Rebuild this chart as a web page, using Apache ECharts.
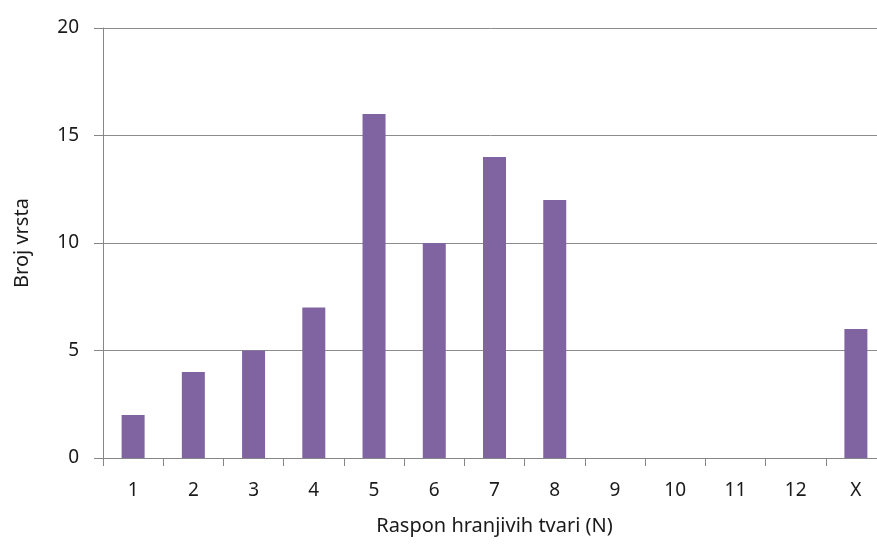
<!DOCTYPE html>
<html>
<head>
<meta charset="utf-8">
<script src="https://cdn.jsdelivr.net/npm/echarts@6/dist/echarts.min.js"></script>
<style>
  html, body { margin: 0; padding: 0; background: #fff; }
  #chart { width: 877px; height: 548px; }
</style>
</head>
<body>
<div id="chart"></div>
<script>
// kategorije (raspon N) i broj vrsta
var categories = ['1', '2', '3', '4', '5', '6', '7', '8', '9', '10', '11', '12', 'X'];
var brojVrsta = [2, 4, 5, 7, 16, 10, 14, 12, 0, 0, 0, 0, 6];
var yTicks = [0, 5, 10, 15, 20];

var chart = echarts.init(document.getElementById('chart'));
var axisGray = '#868686';
var textColor = '#1a1a1a';
var font = 'Noto Sans';

chart.setOption({
  animation: false,
  grid: {
    left: 103,
    top: 28,
    width: 783,
    height: 430,
    outerBoundsMode: 'none'
  },
  xAxis: {
    type: 'category',
    data: categories,
    name: 'Raspon hranjivih tvari (N)',
    nameLocation: 'middle',
    nameGap: 58,
    nameTextStyle: { color: textColor, fontSize: 20, fontFamily: font },
    axisLine: { lineStyle: { color: axisGray, width: 1 } },
    axisTick: { show: true, length: 8, lineStyle: { color: axisGray } },
    axisLabel: { color: textColor, fontSize: 19, fontFamily: font, margin: 23 },
    splitLine: { show: false }
  },
  yAxis: {
    type: 'value',
    min: yTicks[0],
    max: yTicks[yTicks.length - 1],
    interval: 5,
    name: 'Broj vrsta',
    nameLocation: 'middle',
    nameGap: 71,
    nameTextStyle: { color: textColor, fontSize: 20, fontFamily: font },
    axisLine: { show: true, lineStyle: { color: axisGray, width: 1 } },
    axisTick: { show: true, length: 9, lineStyle: { color: axisGray } },
    axisLabel: { color: textColor, fontSize: 19, fontFamily: font, margin: 24 },
    splitLine: { show: true, lineStyle: { color: '#8c8c8c', width: 1 } }
  },
  series: [{
    type: 'bar',
    data: brojVrsta,
    barWidth: 23,
    itemStyle: {
      color: '#8064a2',
      borderWidth: 0
    }
  }]
});
</script>
</body>
</html>
